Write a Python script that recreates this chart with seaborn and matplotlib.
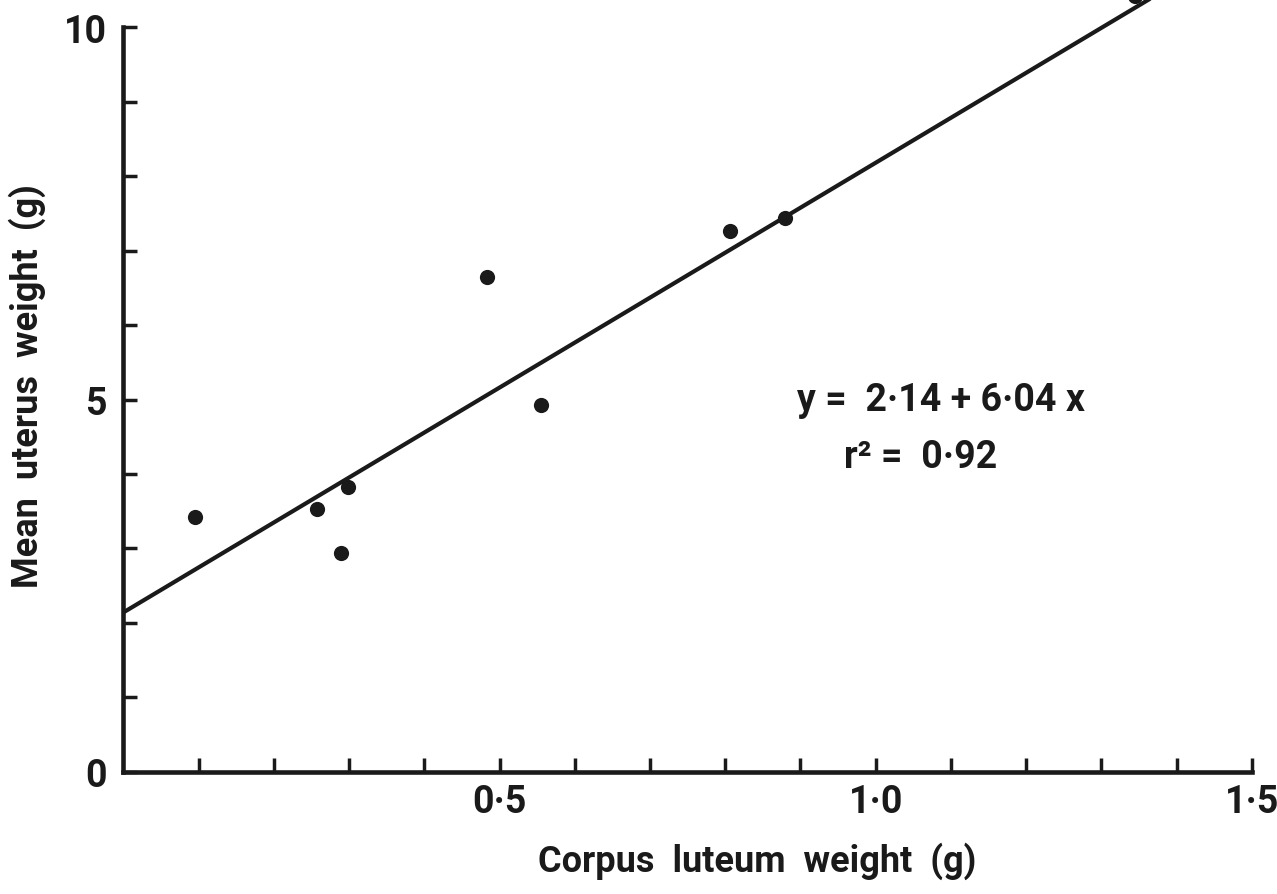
import numpy as np
import pandas as pd
import matplotlib
matplotlib.use("Agg")
import matplotlib.pyplot as plt
import seaborn as sns

# Dados
corpus_luteum = [0.095, 0.257, 0.289, 0.298, 0.484, 0.555, 0.806, 0.879, 1.345]
uterus_weight = [3.42, 3.53, 2.94, 3.83, 6.64, 4.92, 7.26, 7.44, 10.42]
intercept = 2.14
slope = 6.04
r2 = 0.92

x_ticks_major = [0.5, 1.0, 1.5]
x_tick_labels = ["0·5", "1·0", "1·5"]
y_ticks_major = [0, 5, 10]
y_tick_labels = ["0", "5", "10"]

df = pd.DataFrame({"cl": corpus_luteum, "uw": uterus_weight})

sns.set_style("ticks")
plt.rcParams["font.family"] = ["Roboto", "DejaVu Sans"]
plt.rcParams["font.weight"] = "bold"

fig = plt.figure(figsize=(12.77, 8.95), dpi=100)
ax = fig.add_axes([0.0966, 0.1366, 0.8866, 0.8634])

sns.scatterplot(data=df, x="cl", y="uw", ax=ax, s=120, color="#1a1a1a",
                edgecolor="#1a1a1a", linewidth=0, zorder=3)
ax.axline((0, intercept), slope=slope, color="#1a1a1a", lw=3.0, zorder=2)

ax.set_xlim(0, 1.505)
ax.set_ylim(0, 10.38)
sns.despine(ax=ax)
ax.spines["left"].set_bounds(0, 10)
ax.spines["bottom"].set_bounds(0, 1.5)
for s in ["left", "bottom"]:
    ax.spines[s].set_linewidth(3.3)
    ax.spines[s].set_color("#1a1a1a")

ax.set_xticks(x_ticks_major)
ax.set_xticklabels(x_tick_labels)
ax.set_xticks(np.arange(0.1, 1.45, 0.1), minor=True)
ax.set_yticks(y_ticks_major)
ax.set_yticklabels(y_tick_labels)
ax.set_yticks(np.arange(1, 10, 1), minor=True)

ax.tick_params(which="both", direction="in", length=10, width=2.5, color="#1a1a1a")
ax.tick_params(axis="x", which="major", pad=8, labelsize=27, labelcolor="#1a1a1a")
ax.tick_params(axis="y", which="major", pad=12, labelsize=27, labelcolor="#1a1a1a")

ax.set_xlabel("Corpus  luteum  weight  (g)", fontsize=26, fontweight="bold", color="#1a1a1a")
ax.set_ylabel("Mean  uterus  weight  (g)", fontsize=26, fontweight="bold", color="#1a1a1a")
ax.xaxis.set_label_coords(0.56, -0.09)
ax.yaxis.set_label_coords(-0.068, 0.5)

ax.text(1.087, 5.0, "y =  2·14 + 6·04 x", fontsize=27, fontweight="bold",
        ha="center", va="center", color="#1a1a1a")
ax.text(1.06, 4.23, f"r² =  {r2:.2f}".replace(".", "·"), fontsize=27,
        fontweight="bold", ha="center", va="center", color="#1a1a1a")

fig.savefig("out.png", dpi=100, facecolor="white")
